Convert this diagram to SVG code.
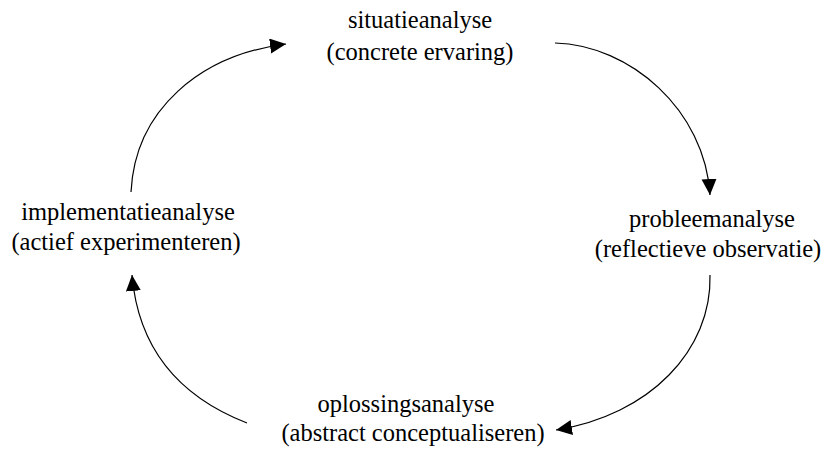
<svg xmlns="http://www.w3.org/2000/svg" width="828" height="453" viewBox="0 0 828 453">
<defs>
<marker id="arr" markerUnits="userSpaceOnUse" markerWidth="17" markerHeight="16" refX="16" refY="7.5" orient="auto">
<path d="M0,0 L16,7.5 L0,15 z" fill="#000"/>
</marker>
<style>
text{font-size:24.5px;fill:#000;text-anchor:middle}
.c{fill:none;stroke:#000;stroke-width:1.2;marker-end:url(#arr)}
</style>
</defs>
<rect width="828" height="453" fill="#fff"/>
<g id="connectors">
<path class="c" d="M131,192 C135,110 200,55 286,44"/>
<path class="c" d="M555,43 C630,45 705,110 710,195"/>
<path class="c" d="M710,275 C712,350 650,415 556,430"/>
<path class="c" d="M247,423 C175,395 138,345 132,275"/>
</g>
<g font-family="'Liberation Serif', 'Times New Roman', 'DejaVu Serif', serif">
<g id="situatieanalyse">
<text x="420" y="28">situatieanalyse</text>
<text x="420" y="60">(concrete ervaring)</text>
</g>
<g id="probleemanalyse">
<text x="712" y="227">probleemanalyse</text>
<text x="708" y="257">(reflectieve observatie)</text>
</g>
<g id="oplossingsanalyse">
<text x="406" y="412">oplossingsanalyse</text>
<text x="413" y="441">(abstract conceptualiseren)</text>
</g>
<g id="implementatieanalyse">
<text x="128" y="220">implementatieanalyse</text>
<text x="126" y="250">(actief experimenteren)</text>
</g>
</g>
</svg>
